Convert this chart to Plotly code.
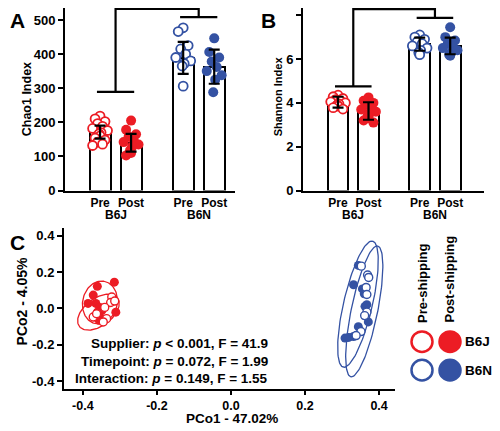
import numpy as np
import plotly.graph_objects as go

# ---------------- data ----------------
strains = ["B6J", "B6N"]
timepoints = ["Pre", "Post"]

chao1_mean = [171, 140, 389, 363]
chao1_err = [19, 26, 47, 50]
chao1_pre_b6j = [218, 210, 202, 196, 188, 182, 176, 170, 166, 160, 154, 148, 142, 136, 132]
chao1_post_b6j = [205, 178, 165, 158, 150, 142, 135, 128, 118, 110, 103]
chao1_pre_b6n = [477, 466, 425, 415, 400, 390, 380, 372, 365, 306]
chao1_post_b6n = [446, 406, 390, 378, 362, 350, 338, 325, 288]

shannon_mean = [4.03, 3.63, 6.68, 6.60]
shannon_err = [0.25, 0.40, 0.30, 0.38]
shannon_pre_b6j = [4.35, 4.28, 4.2, 4.15, 4.1, 4.05, 4.0, 3.95, 3.9, 3.85, 3.78, 3.72]
shannon_post_b6j = [4.25, 4.1, 4.0, 3.9, 3.8, 3.7, 3.6, 3.5, 3.4, 3.3, 3.2, 3.1]
shannon_pre_b6n = [7.1, 7.0, 6.9, 6.8, 6.7, 6.6, 6.5, 6.4, 6.3, 6.2]
shannon_post_b6n = [7.45, 7.0, 6.85, 6.7, 6.6, 6.5, 6.4, 6.3, 6.2, 6.15]

chao1_sig = [289, 508, 532]       # B6J bracket, B6N bracket, top bracket
shannon_sig = [4.75, 7.88, 8.28]

pco_b6j_post_x = [-0.361, -0.315, -0.372, -0.386, -0.365, -0.354, -0.361, -0.349, -0.311, -0.368, -0.349, -0.356]
pco_b6j_post_y = [0.121, 0.144, 0.073, 0.027, 0.027, 0.005, -0.021, -0.013, -0.021, -0.048, -0.057, -0.066]
pco_b6j_pre_x = [-0.322, -0.325, -0.314, -0.372, -0.336, -0.345, -0.363, -0.341]
pco_b6j_pre_y = [0.062, 0.032, 0.040, -0.048, -0.057, -0.075, -0.030, 0.005]
pco_b6n_post_x = [0.344, 0.331, 0.355, 0.362, 0.371, 0.344, 0.331, 0.308, 0.318, 0.367, 0.360]
pco_b6n_post_y = [0.236, 0.130, 0.107, 0.011, -0.075, -0.101, -0.155, -0.164, -0.160, 0.020, 0.080]
pco_b6n_pre_x = [0.352, 0.369, 0.365, 0.367, 0.367, 0.361, 0.351, 0.338, 0.372]
pco_b6n_pre_y = [0.232, 0.183, 0.115, 0.076, -0.021, -0.040, -0.128, -0.150, 0.170]

# ellipses: center x, center y, major vector (x,y), minor vector (x,y)
ell_b6j_pre = [-0.354, 0.032, 0.0108, 0.117, 0.046, -0.016]
ell_b6j_post = [-0.358, -0.021, 0.051, 0.080, 0.0235, -0.0587]
ell_b6n_pre = [0.343, 0.023, 0.0395, 0.347, 0.038, -0.0166]
ell_b6n_post = [0.360, -0.017, 0.036, 0.360, 0.035, -0.0135]

stats_lines = [
    "Supplier: <i>p</i> &lt; 0.001, F = 41.9",
    "Timepoint: <i>p</i> = 0.072, F = 1.99",
    "Interaction: <i>p</i> = 0.149, F = 1.55",
]

# ---------------- style ----------------
RED = "#EC1C24"
BLUE = "#3452A3"
FONT = "Liberation Sans, Arial, sans-serif"
W, H = 500, 431
OFFX, OFFY = 8, 3          # page offset of the figure
GROUP_GAP = 2.68


def px(x):
    return (x - OFFX) / W


def py(y):
    return min(1.0, 1 - (y - OFFY) / H)


fig = go.Figure()

bar_x = [g * GROUP_GAP + t for g in range(2) for t in range(2)]
colors = [RED, RED, BLUE, BLUE]
filled = [False, True, False, True]


def jitter(n, spread):
    pattern = [0, -1, 1, -0.5, 0.5, -1.5, 1.5, 0.2, -0.2]
    return [pattern[i % len(pattern)] * spread / 1.5 for i in range(n)]


def bar_panel(xa, ya, means, errs, groups, sig):
    fig.add_trace(go.Bar(x=bar_x, y=means, width=0.68, marker=dict(color="white", line=dict(color="black", width=2)),
                         xaxis=xa, yaxis=ya, showlegend=False))
    for i, vals in enumerate(groups):
        offs = jitter(len(vals), 0.24)
        if filled[i]:
            m = dict(color=colors[i], size=10, line=dict(width=0))
        else:
            m = dict(color="white", size=9, line=dict(color=colors[i], width=1.8))
        fig.add_trace(go.Scatter(x=[bar_x[i] + o for o in offs], y=vals, mode="markers", marker=m,
                                 xaxis=xa, yaxis=ya, showlegend=False))
    fig.add_trace(go.Scatter(x=bar_x, y=means, mode="markers", marker=dict(size=1, color="rgba(0,0,0,0)"),
                             error_y=dict(type="data", array=errs, color="black", thickness=2.2, width=5.5),
                             xaxis=xa, yaxis=ya, showlegend=False))
    c1 = 0.5
    c2 = GROUP_GAP + 0.5
    lw = dict(color="black", width=2.2)
    fig.add_shape(type="line", x0=c1 - 0.6, x1=c1 + 0.6, y0=sig[0], y1=sig[0], xref=xa, yref=ya, line=lw)
    fig.add_shape(type="line", x0=c2 - 0.6, x1=c2 + 0.6, y0=sig[1], y1=sig[1], xref=xa, yref=ya, line=lw)
    fig.add_shape(type="path", path=f"M {c1},{sig[0]} L {c1},{sig[2]} L {c2},{sig[2]} L {c2},{sig[1]}",
                  xref=xa, yref=ya, line=lw)


bar_panel("x", "y", chao1_mean, chao1_err, [chao1_pre_b6j, chao1_post_b6j, chao1_pre_b6n, chao1_post_b6n], chao1_sig)
bar_panel("x2", "y2", shannon_mean, shannon_err,
          [shannon_pre_b6j, shannon_post_b6j, shannon_pre_b6n, shannon_post_b6n], shannon_sig)


# ---------------- PCoA ----------------
def ellipse(p, color):
    t = np.linspace(0, 2 * np.pi, 120)
    x = p[0] + p[2] * np.cos(t) + p[4] * np.sin(t)
    y = p[1] + p[3] * np.cos(t) + p[5] * np.sin(t)
    fig.add_trace(go.Scatter(x=x, y=y, mode="lines", line=dict(color=color, width=1.3),
                             xaxis="x3", yaxis="y3", showlegend=False, hoverinfo="skip"))


ellipse(ell_b6j_pre, RED)
ellipse(ell_b6j_post, RED)
ellipse(ell_b6n_pre, BLUE)
ellipse(ell_b6n_post, BLUE)

for xs, ys, col, fill in [(pco_b6j_post_x, pco_b6j_post_y, RED, True),
                          (pco_b6j_pre_x, pco_b6j_pre_y, RED, False),
                          (pco_b6n_post_x, pco_b6n_post_y, BLUE, True),
                          (pco_b6n_pre_x, pco_b6n_pre_y, BLUE, False)]:
    if fill:
        m = dict(color=col, size=9, line=dict(width=0))
    else:
        m = dict(color="white", size=8, line=dict(color=col, width=1.4))
    fig.add_trace(go.Scatter(x=xs, y=ys, mode="markers", marker=m, xaxis="x3", yaxis="y3", showlegend=False))

# ---------------- axes ----------------
tickfont = dict(family=FONT, size=13, color="black", weight="bold")
axis_common = dict(showline=True, linecolor="black", linewidth=2, showgrid=False, zeroline=False,
                   tickfont=tickfont, ticks="outside", ticklen=5, tickwidth=2, tickcolor="black")
cat_axis = {**axis_common, "ticks": "", "tickfont": {**tickfont, "size": 12}}

pco_ticks = [-0.4, -0.2, 0.0, 0.2, 0.4]
pco_text = [f"{v:.1f}" for v in pco_ticks]

fig.update_layout(
    width=W, height=H, autosize=False, margin=dict(l=0, r=0, t=0, b=0),
    paper_bgcolor="white", plot_bgcolor="white",
    font=dict(family=FONT, color="black", weight="bold"),
    bargap=0,
    xaxis=dict(domain=[px(65), px(235)], range=[-1.13, 4.35], anchor="y",
               tickvals=bar_x, ticktext=timepoints * 2, **cat_axis),
    yaxis=dict(domain=[py(189), py(3)], range=[0, 535], anchor="x", tickvals=[0, 100, 200, 300, 400, 500],
               **axis_common),
    xaxis2=dict(domain=[px(303), px(484)], range=[-1.15, 4.79], anchor="y2",
                tickvals=bar_x, ticktext=timepoints * 2, **cat_axis),
    yaxis2=dict(domain=[py(189), py(3)], range=[0, 8.33], anchor="x2", tickvals=[0, 2, 4, 6, 8],
                **axis_common),
    xaxis3=dict(domain=[px(64), px(395)], range=[-0.451, 0.443], anchor="y3",
                tickvals=pco_ticks, ticktext=pco_text,
                **{**axis_common, "ticklen": 4, "tickfont": {**tickfont, "size": 12.5}}),
    yaxis3=dict(domain=[py(391), py(227)], range=[-0.443, 0.443], anchor="x3",
                tickvals=pco_ticks, ticktext=pco_text, **axis_common),
)

# ---------------- annotations ----------------
ann = []


def add_text(text, x, y, size, angle=0, xanchor="center", yanchor="middle", xref="paper", yref="paper"):
    ann.append(dict(text=f"<b>{text}</b>", x=x, y=y, xref=xref, yref=yref, showarrow=False, textangle=angle,
                    xanchor=xanchor, yanchor=yanchor,
                    font=dict(family=FONT, size=size, color="black", weight="bold")))


add_text("A", px(17), py(16), 21)
add_text("B", px(268), py(16), 21)
add_text("C", px(17), py(242), 21)
add_text("Chao1 Index", px(27), py(96), 12.5, angle=-90)
add_text("Shannon Index", px(278), py(93), 11, angle=-90)
for g, s in enumerate(strains):
    add_text(s, g * GROUP_GAP + 0.5, py(214), 12, xref="x")
    add_text(s, g * GROUP_GAP + 0.5, py(214), 12, xref="x2")
add_text("PCo2 - 4.05%", px(22), py(302), 14, angle=-90)
add_text("PCo1 - 47.02%", px(232), py(431), 13.5, yanchor="bottom")
for i, line in enumerate(stats_lines):
    add_text(line, px(270), py(345 + i * 18), 13.5, xanchor="right")
add_text("Pre-shipping", px(422), py(326), 13, angle=-90, yanchor="bottom")
add_text("Post-shipping", px(450), py(326), 13, angle=-90, yanchor="bottom")
add_text("B6J", px(463), py(343), 13.5, xanchor="left")
add_text("B6N", px(463), py(372), 13.5, xanchor="left")
fig.update_layout(annotations=ann)

# legend circles
r = 10.5
for cy, col in [(343, RED), (372, BLUE)]:
    fig.add_shape(type="circle", xref="paper", yref="paper", x0=px(422 - r), x1=px(422 + r),
                  y0=py(cy + r), y1=py(cy - r), line=dict(color=col, width=2.5), fillcolor="white")
    fig.add_shape(type="circle", xref="paper", yref="paper", x0=px(450 - r), x1=px(450 + r),
                  y0=py(cy + r), y1=py(cy - r), line=dict(color=col, width=2.5), fillcolor=col)

fig.write_html("out.html")
